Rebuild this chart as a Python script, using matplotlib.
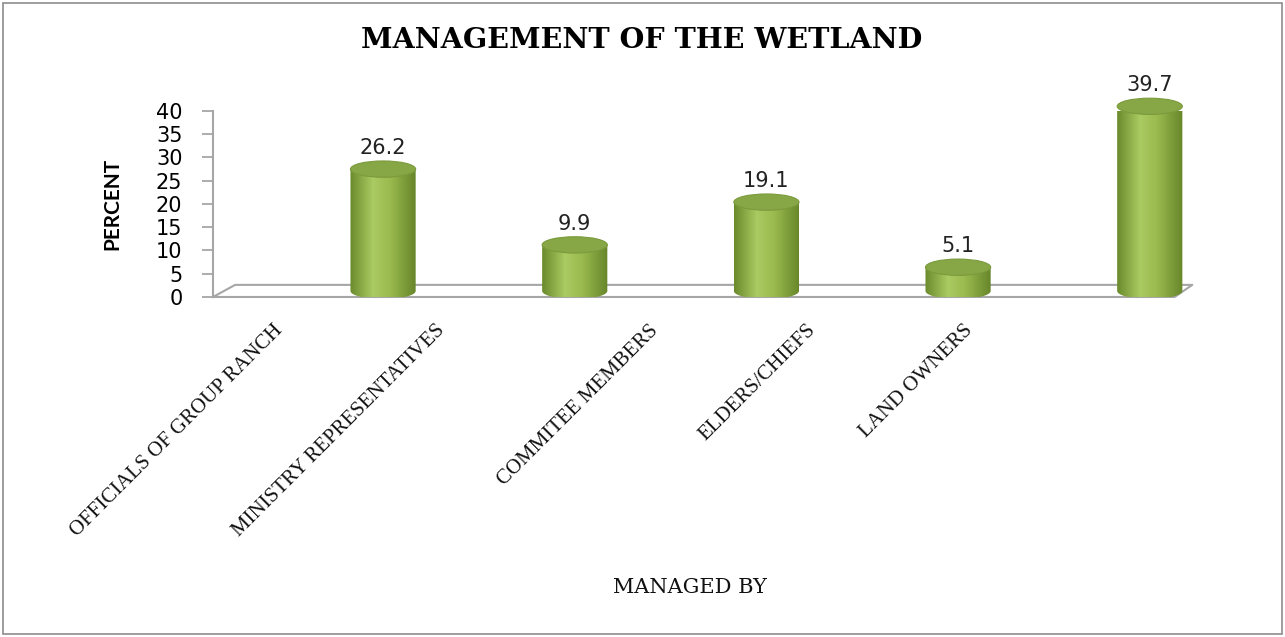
import numpy as np
import matplotlib
matplotlib.use('Agg')
import matplotlib.pyplot as plt
from matplotlib.patches import Ellipse, PathPatch, Rectangle
from matplotlib.path import Path
from matplotlib.colors import LinearSegmentedColormap

categories = ['OFFICIALS OF GROUP RANCH', 'MINISTRY REPRESENTATIVES',
              'COMMITEE MEMBERS', 'ELDERS/CHIEFS', 'LAND OWNERS']
values = [26.2, 9.9, 19.1, 5.1, 39.7]
yticks = [0, 5, 10, 15, 20, 25, 30, 35, 40]

# horizontal offset of each rotated label end from its bar (layout only)
label_shift = [-0.54, -0.69, -0.58, -0.76, -0.94]

fig = plt.figure(figsize=(12.85, 6.37), dpi=100)
fig.patches.append(Rectangle((0.002, 0.004), 0.996, 0.992, transform=fig.transFigure,
                             fill=False, edgecolor='#8c8c8c', lw=1.2))
ax = fig.add_axes([0.1658, 0.5338, 0.764, 0.292])

# floor (3d look)
depth = 2.6
shift = 0.115
x0, x1 = -0.887, 4.13
grey = '#a6a6a6'
ax.plot([x0, x1, x1 + shift * 0.8, x0 + shift, x0],
        [0, 0, depth, depth, 0], color=grey, lw=1.5, clip_on=False, zorder=1)

cmap = LinearSegmentedColormap.from_list('cyl', [
    (0.0, '#6a8a2c'), (0.35, '#aacb62'), (0.6, '#9bbb50'), (1.0, '#66862a')])
grad = np.linspace(0, 1, 256).reshape(1, -1)

w = 0.34
eh = 3.5
base = 1.3
for i, v in enumerate(values):
    top = v + base
    t = np.linspace(np.pi, 2 * np.pi, 60)
    ex = i + w / 2 * np.cos(t)
    ey = base + eh / 2 * np.sin(t)
    verts = [(i - w / 2, top)] + list(zip(ex, ey)) + [(i + w / 2, top), (i - w / 2, top)]
    codes = [Path.MOVETO] + [Path.LINETO] * (len(verts) - 2) + [Path.CLOSEPOLY]
    body = PathPatch(Path(verts, codes), facecolor='none', edgecolor='none')
    ax.add_patch(body)
    im = ax.imshow(grad, cmap=cmap, aspect='auto', zorder=3,
                   extent=[i - w / 2, i + w / 2, base - eh / 2, top])
    im.set_clip_path(body)
    ax.add_patch(Ellipse((i, top), w, eh, facecolor='#87a746', edgecolor='#7a9a3c',
                         lw=0.8, zorder=4, clip_on=False))
    ax.text(i, top + eh / 2 + 0.6, f'{v}', ha='center', va='bottom',
            fontsize=15, color='#222222', clip_on=False, zorder=5)

ax.set_xlim(-0.887, 4.235)
ax.set_ylim(0, 40)

for s in ['top', 'right', 'bottom']:
    ax.spines[s].set_visible(False)
ax.spines['left'].set_color(grey)
ax.spines['left'].set_linewidth(1.5)
ax.set_yticks(yticks)
ax.set_yticklabels([str(t) for t in yticks])
ax.tick_params(axis='y', length=8, width=1.3, color=grey, labelsize=15, pad=14)
ax.set_xticks([])

for i, c in enumerate(categories):
    ax.text(i + label_shift[i], -0.165, c, transform=ax.get_xaxis_transform(),
            rotation=45, rotation_mode='anchor', ha='right', va='center',
            family='Liberation Serif', fontsize=15, color='#111111')

ax.set_ylabel('PERCENT', family='Lato', fontweight='bold', fontsize=15, labelpad=24)

fig.text(0.4995, 0.937, 'MANAGEMENT OF THE WETLAND', ha='center', va='center',
         family='DejaVu Serif', fontweight='bold', fontsize=20.5)
fig.text(0.537, 0.077, 'MANAGED BY', ha='center', va='center',
         family='DejaVu Serif', fontsize=15, color='#111111')

fig.savefig('out.png', dpi=100)
